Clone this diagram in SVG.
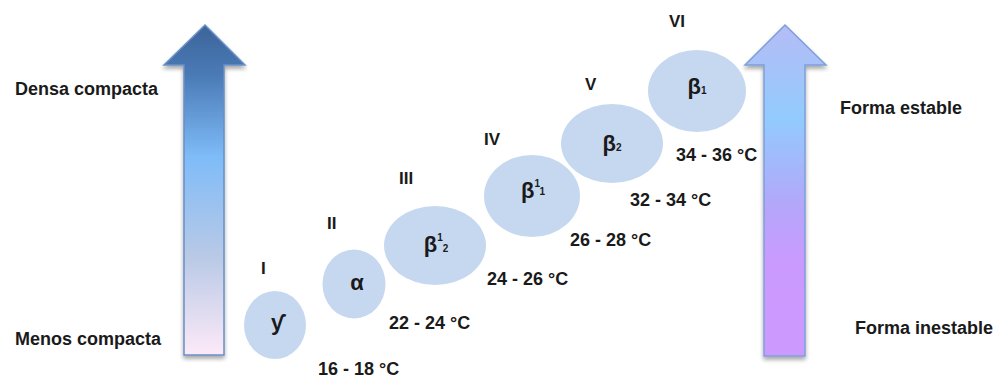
<svg xmlns="http://www.w3.org/2000/svg" width="998" height="383" viewBox="0 0 998 383">
<defs>
<linearGradient id="gl" x1="0" y1="25" x2="0" y2="356" gradientUnits="userSpaceOnUse">
<stop offset="0" stop-color="#3c6499"/>
<stop offset="0.15" stop-color="#4a7ab6"/>
<stop offset="0.4" stop-color="#7fbcf8"/>
<stop offset="0.7" stop-color="#b9c9e6"/>
<stop offset="1" stop-color="#fdeaf8"/>
</linearGradient>
<linearGradient id="gr" x1="0" y1="25" x2="0" y2="356" gradientUnits="userSpaceOnUse">
<stop offset="0" stop-color="#b6bcf6"/>
<stop offset="0.28" stop-color="#92cbfd"/>
<stop offset="0.55" stop-color="#b4a6fa"/>
<stop offset="0.72" stop-color="#cb9aff"/>
<stop offset="1" stop-color="#cc99ff"/>
</linearGradient>
<filter id="sh" x="-20%" y="-10%" width="140%" height="120%">
<feGaussianBlur in="SourceAlpha" stdDeviation="2"/>
<feOffset dx="0" dy="3" result="b"/>
<feComponentTransfer><feFuncA type="linear" slope="0.35"/></feComponentTransfer>
<feMerge><feMergeNode/><feMergeNode in="SourceGraphic"/></feMerge>
</filter>
</defs>
<style>
.t{font-family:"Liberation Sans",Arial,sans-serif;font-weight:bold;font-size:18px;fill:#1a1a1a}
.n{font-family:"Liberation Sans",Arial,sans-serif;font-weight:bold;font-size:17px;fill:#1a1a1a}
.g{font-family:"Liberation Sans","DejaVu Sans",sans-serif;font-weight:bold;font-size:22px;fill:#1a1a1a;text-anchor:middle}
.s{font-size:10px}
.e{fill:#c6d8f0}
</style>
<g id="arrow-left">
<path d="M205,25 L245,65 L224,65 L224,355 L184,355 L184,65 L164,65 Z" fill="url(#gl)" stroke="#6a8fc6" stroke-width="1.5" filter="url(#sh)"/>
</g>
<g id="arrow-right">
<path d="M785,25 L826,65 L805,65 L805,356 L764,356 L764,65 L745,65 Z" fill="url(#gr)" stroke="#7d9edb" stroke-width="1.5" filter="url(#sh)"/>
</g>
<g id="label-densa"><text class="t" x="15" y="95">Densa compacta</text></g>
<g id="label-menos"><text class="t" x="15" y="345">Menos compacta</text></g>
<g id="label-estable"><text class="t" x="840" y="114">Forma estable</text></g>
<g id="label-inestable"><text class="t" x="855" y="334">Forma inestable</text></g>
<g id="form-I">
<ellipse class="e" cx="275" cy="325" rx="31" ry="34"/>
<text class="n" x="261" y="274">I</text>
<text class="g" x="277" y="330">ƴ</text>
<text class="t" x="318" y="375">16 - 18 °C</text>
</g>
<g id="form-II">
<ellipse class="e" cx="354" cy="284" rx="31.5" ry="34.5"/>
<text class="n" x="327" y="229">II</text>
<text class="g" x="357" y="290">α</text>
<text class="t" x="389" y="329">22 - 24 °C</text>
</g>
<g id="form-III">
<ellipse class="e" cx="435" cy="245.5" rx="51" ry="39.5"/>
<text class="n" x="399" y="184">III</text>
<text class="g" x="436" y="252">β<tspan class="s" dy="-11">1</tspan><tspan class="s" dy="11">2</tspan></text>
<text class="t" x="487" y="285">24 - 26 °C</text>
</g>
<g id="form-IV">
<ellipse class="e" cx="532" cy="196" rx="48" ry="41"/>
<text class="n" x="484" y="145">IV</text>
<text class="g" x="533" y="198">β<tspan class="s" dy="-11">1</tspan><tspan class="s" dy="8">1</tspan></text>
<text class="t" x="570" y="246">26 - 28 °C</text>
</g>
<g id="form-V">
<ellipse class="e" cx="612" cy="143.5" rx="51" ry="39.5"/>
<text class="n" x="585" y="90">V</text>
<text class="g" x="612" y="151">β<tspan class="s">2</tspan></text>
<text class="t" x="630" y="206">32 - 34 °C</text>
</g>
<g id="form-VI">
<ellipse class="e" cx="697" cy="91" rx="49" ry="41"/>
<text class="n" x="669" y="27">VI</text>
<text class="g" x="697" y="94">β<tspan class="s">1</tspan></text>
<text class="t" x="676" y="161">34 - 36 °C</text>
</g>
<g id="connectors"></g>
</svg>
